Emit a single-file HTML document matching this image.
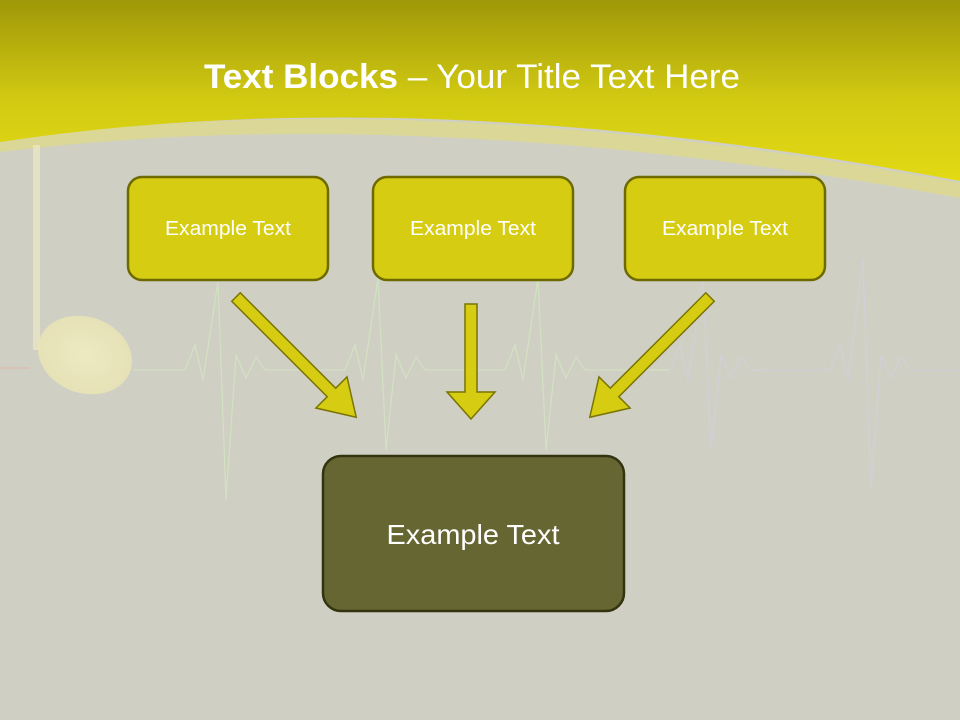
<!DOCTYPE html>
<html><head><meta charset="utf-8"><style>
html,body{margin:0;padding:0;width:960px;height:720px;overflow:hidden;background:#cfcfc3}
svg{display:block}
</style></head><body>
<svg width="960" height="720" viewBox="0 0 960 720" xmlns="http://www.w3.org/2000/svg">
<defs>
<linearGradient id="hg" x1="0" y1="0" x2="0" y2="1">
<stop offset="0" stop-color="#9f9808"/>
<stop offset="0.55" stop-color="#d2ca12"/>
<stop offset="1" stop-color="#e2da14"/>
</linearGradient>
<radialGradient id="ov" cx="0.5" cy="0.5" r="0.5">
<stop offset="0" stop-color="#f4efc0"/>
<stop offset="1" stop-color="#ece6b4"/>
</radialGradient>
</defs>
<rect width="960" height="720" fill="#cfcfc3"/>
<path d="M0,152 Q420,100 960,198 L960,183 Q420,82 0,140 Z" fill="#dcd792" opacity="0.9"/>
<path d="M0,0 H960 V181 Q420,78 0,142 Z" fill="url(#hg)"/>
<rect x="33" y="145" width="7" height="205" fill="#f3ecc6" opacity="0.6"/>
<ellipse cx="85" cy="355" rx="48" ry="38" transform="rotate(20 85 355)" fill="url(#ov)" opacity="0.8"/>
<g fill="none" stroke-width="1.3" opacity="0.55">
<path d="M0,368 L30,368" stroke="#e8b0a0"/>
<path d="M133,370 L185,370 L195,345 L203,380 L218,282 L226,500 L236,355 L246,378 L256,357 L265,370 L345,370 L355,345 L363,380 L378,278 L386,450 L396,355 L406,378 L416,357 L425,370 L505,370 L515,345 L523,380 L538,278 L546,450 L556,355 L566,378 L576,357 L585,370 L670,370" stroke="#d6f0c0"/>
<path d="M670,370 L680,345 L688,380 L703,278 L711,450 L721,355 L731,378 L741,357 L750,370 L830,370 L840,345 L848,380 L863,260 L871,490 L881,355 L891,378 L901,357 L910,370 L960,370" stroke="#d8d0e8"/>
</g>
<text x="472" y="88" text-anchor="middle" font-family="Liberation Sans, sans-serif" font-size="34" fill="#ffffff" textLength="536" lengthAdjust="spacingAndGlyphs"><tspan font-weight="bold">Text Blocks</tspan> – Your Title Text Here</text>
<g fill="#d6cc12" stroke="#6e6a00" stroke-width="2.5">
<rect x="128" y="177" width="200" height="103" rx="14"/>
<rect x="373" y="177" width="200" height="103" rx="14"/>
<rect x="625" y="177" width="200" height="103" rx="14"/>
</g>
<g font-family="Liberation Sans, sans-serif" font-size="20" fill="#ffffff" text-anchor="middle">
<text x="228" y="235" textLength="126" lengthAdjust="spacingAndGlyphs">Example Text</text>
<text x="473" y="235" textLength="126" lengthAdjust="spacingAndGlyphs">Example Text</text>
<text x="725" y="235" textLength="126" lengthAdjust="spacingAndGlyphs">Example Text</text>
</g>
<g fill="#d6cc12" stroke="#7a7400" stroke-width="1.5">
<polygon points="-6,0 6,0 6,88 24,88 0,115 -24,88 -6,88" transform="translate(471,304)"/>
<polygon points="-6,0 6,0 6,135 22,135 0,170 -22,135 -6,135" transform="translate(236,297) rotate(-45)"/>
<polygon points="-6,0 6,0 6,135 22,135 0,170 -22,135 -6,135" transform="translate(710,297) rotate(45)"/>
</g>
<rect x="323" y="456" width="301" height="155" rx="18" fill="#666633" stroke="#33330f" stroke-width="2.5"/>
<text x="473" y="544" text-anchor="middle" font-family="Liberation Sans, sans-serif" font-size="28" fill="#ffffff" textLength="173" lengthAdjust="spacingAndGlyphs">Example Text</text>
</svg>
</body></html>
